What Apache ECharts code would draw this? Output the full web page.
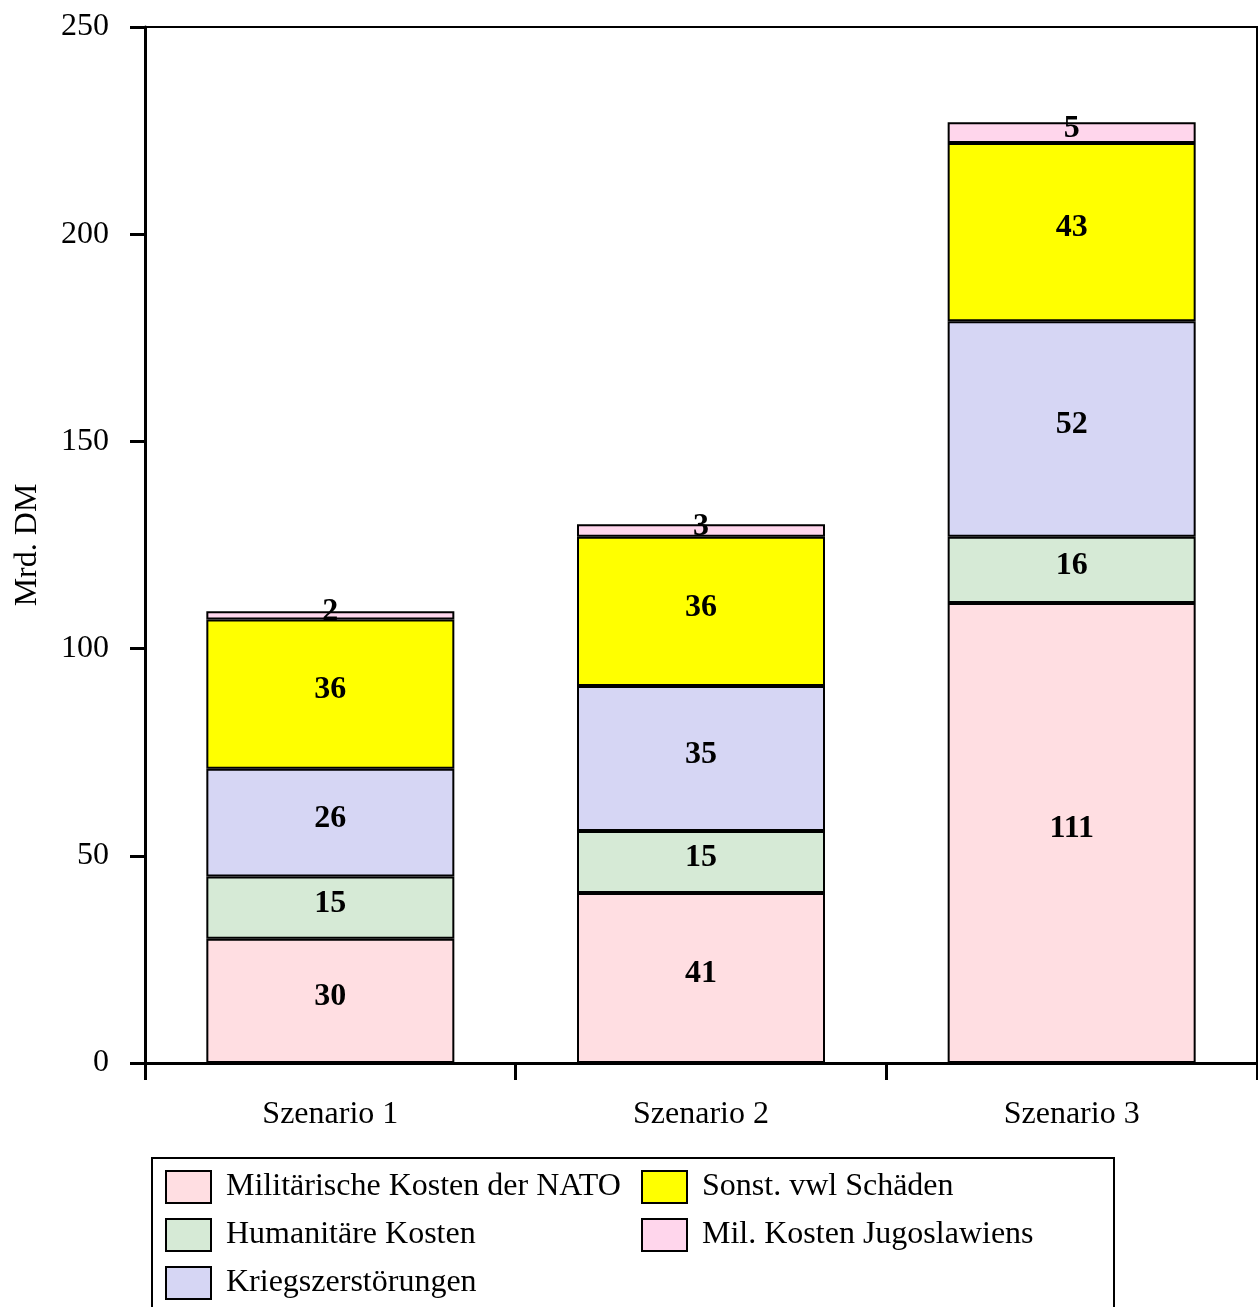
<!DOCTYPE html>
<html>
<head>
<meta charset="utf-8">
<script src="https://cdn.jsdelivr.net/npm/echarts@6/dist/echarts.min.js"></script>
<style>
html, body { margin: 0; padding: 0; background: #fff; }
#main { width: 1258px; height: 1307px; }
</style>
</head>
<body>
<div id="main"></div>
<script>
var categories = ['Szenario 1', 'Szenario 2', 'Szenario 3'];
var natoKosten = [30, 41, 111];
var humanitaer = [15, 15, 16];
var kriegszerst = [26, 35, 52];
var sonstSchaeden = [36, 36, 43];
var jugoKosten = [2, 3, 5];
var yTicks = [0, 50, 100, 150, 200, 250];

var font = '"Liberation Serif", "Times New Roman", serif';

function stackSeries(name, data, color) {
    return {
        name: name,
        type: 'bar',
        stack: 'total',
        barWidth: 248,
        data: data,
        itemStyle: { color: color, borderColor: '#000', borderWidth: 2 },
        label: {
            show: true,
            position: 'inside',
            offset: [0, -4],
            color: '#000',
            fontFamily: font,
            fontWeight: 'bold',
            fontSize: 32
        }
    };
}

function legendBlock(left, names) {
    return {
        orient: 'vertical',
        left: left, top: 1170,
        padding: 0,
        icon: 'rect',
        itemWidth: 45, itemHeight: 32, itemGap: 14,
        data: names,
        itemStyle: { borderColor: '#000', borderWidth: 2 },
        textStyle: { fontFamily: font, fontSize: 32, color: '#000', padding: [0, 0, 0, 10] }
    };
}

var chart = echarts.init(document.getElementById('main'));
chart.setOption({
    animation: false,
    backgroundColor: '#fff',
    grid: {
        left: 145, right: 1, top: 27, bottom: 244,
        show: true, borderColor: '#000', borderWidth: 2
    },
    legend: [
        legendBlock(165, ['Militärische Kosten der NATO', 'Humanitäre Kosten', 'Kriegszerstörungen']),
        legendBlock(641, ['Sonst. vwl Schäden', 'Mil. Kosten Jugoslawiens'])
    ],
    graphic: [{
        type: 'rect',
        shape: { x: 152, y: 1158, width: 962, height: 160 },
        style: { fill: 'none', stroke: '#000', lineWidth: 2 },
        silent: true
    }],
    xAxis: {
        type: 'category',
        data: categories,
        axisLine: { lineStyle: { color: '#000', width: 3 } },
        axisTick: { show: true, length: 17, lineStyle: { color: '#000', width: 3 } },
        axisLabel: { color: '#000', fontFamily: font, fontSize: 32, margin: 36 }
    },
    yAxis: {
        type: 'value',
        min: yTicks[0], max: yTicks[yTicks.length - 1], interval: 50,
        name: 'Mrd. DM',
        nameLocation: 'middle',
        nameRotate: 90,
        nameGap: 101,
        nameTextStyle: { color: '#000', fontFamily: font, fontSize: 32 },
        axisLine: { show: true, lineStyle: { color: '#000', width: 3 } },
        axisTick: { show: true, length: 15, lineStyle: { color: '#000', width: 3 } },
        axisLabel: { color: '#000', fontFamily: font, fontSize: 32, margin: 36, padding: [0, 0, 8, 0] },
        splitLine: { show: false }
    },
    series: [
        stackSeries('Militärische Kosten der NATO', natoKosten, '#FFDEE2'),
        stackSeries('Humanitäre Kosten', humanitaer, '#D6EAD6'),
        stackSeries('Kriegszerstörungen', kriegszerst, '#D6D6F4'),
        stackSeries('Sonst. vwl Schäden', sonstSchaeden, '#FFFF00'),
        stackSeries('Mil. Kosten Jugoslawiens', jugoKosten, '#FFD6EC')
    ]
});
</script>
</body>
</html>
